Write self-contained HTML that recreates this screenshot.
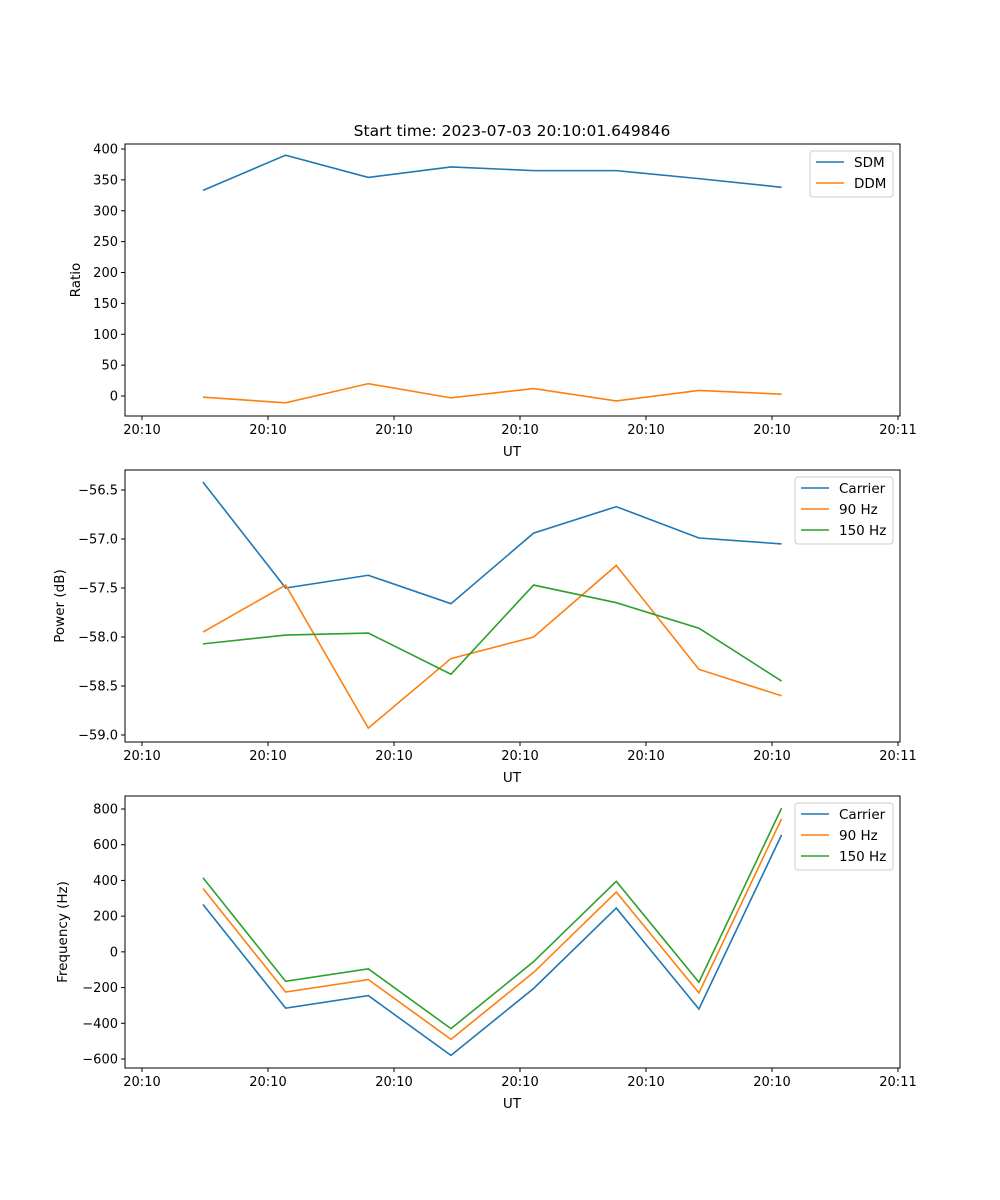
<!DOCTYPE html>
<html><head><meta charset="utf-8"><style>
body{margin:0;background:#fff}
svg{display:block;font-family:"DejaVu Sans","Liberation Sans",sans-serif}
</style></head><body>
<svg id="fig" width="1000" height="1200" xmlns="http://www.w3.org/2000/svg">
<rect width="1000" height="1200" fill="#fff"/>
<text x="512" y="136" font-size="15.5" text-anchor="middle">Start time: 2023-07-03 20:10:01.649846</text>
</svg>
<script>
const xTickLabels = ["20:10","20:10","20:10","20:10","20:10","20:10","20:11"];
const xVals = [0.484,1.140,1.796,2.452,3.108,3.764,4.420,5.076];
const sdm = [333,390,354,371,365,365,352,338];
const ddm = [-2,-11,20,-3,12,-8,9,3];
const pwrCarrier = [-56.42,-57.50,-57.37,-57.66,-56.94,-56.67,-56.99,-57.05];
const pwr90 = [-57.95,-57.47,-58.93,-58.22,-58.00,-57.27,-58.33,-58.60];
const pwr150 = [-58.07,-57.98,-57.96,-58.38,-57.47,-57.65,-57.91,-58.45];
const frqCarrier = [265,-315,-245,-580,-205,245,-320,655];
const frq90 = [355,-225,-155,-490,-115,335,-230,745];
const frq150 = [415,-165,-95,-430,-55,395,-170,805];
const yTicks1 = [0,50,100,150,200,250,300,350,400];
const yTicks2 = [-59.0,-58.5,-58.0,-57.5,-57.0,-56.5];
const yTicks3 = [-600,-400,-200,0,200,400,600,800];

const NS="http://www.w3.org/2000/svg";
const svg=document.getElementById('fig');
function mk(tag,attrs,parent){const e=document.createElementNS(NS,tag);for(const k in attrs)e.setAttribute(k,attrs[k]);(parent||svg).appendChild(e);return e;}
const C=['#1f77b4','#ff7f0e','#2ca02c'];
const L=125,R=900;
const xs=v=>142+126*v;

function panel(name,top,bot,y0v,y0p,y1v,y1p,ticks,fmt,ylabel,ylabelX,series,names,legend){
  const ys=v=>y0p+(v-y0v)*(y1p-y0p)/(y1v-y0v);
  const g=mk('g',{});
  
  
  series.forEach((s,i)=>{
    const p=mk('polyline',{points:s.map((v,j)=>xs(xVals[j])+','+ys(v)).join(' '),fill:'none',stroke:C[i],'stroke-width':1.6},g);
    
    
  });
  const fr=mk('rect',{x:L,y:top,width:R-L,height:bot-top,fill:'none',stroke:'#000','stroke-width':1},g);
  
  
  xTickLabels.forEach((t,i)=>{
    const x=xs(i);
    mk('line',{x1:x,x2:x,y1:bot,y2:bot+4,stroke:'#000'},g);
    const tx=mk('text',{x:x,y:bot+18,'font-size':13,'text-anchor':'middle'},g);tx.textContent=t;
    
    
  });
  const xl=mk('text',{x:512,y:bot+40,'font-size':13.5,'text-anchor':'middle'},g);xl.textContent='UT';
  
  
  ticks.forEach(v=>{
    const y=ys(v);
    mk('line',{x1:L-4,x2:L,y1:y,y2:y,stroke:'#000'},g);
    const tx=mk('text',{x:L-7,y:y+4.5,'font-size':13,'text-anchor':'end'},g);tx.textContent=fmt(v);
    
    
  });
  const yl=mk('text',{x:ylabelX,y:(top+bot)/2,'font-size':13.5,'text-anchor':'middle',transform:`rotate(-90 ${ylabelX} ${(top+bot)/2})`},g);yl.textContent=ylabel;
  
  
  const lg=mk('g',{},g);
  
  
  mk('rect',{x:legend.x,y:top+7,width:893-legend.x,height:names.length*21+4,rx:3,fill:'#fff','fill-opacity':0.8,stroke:'#ccc'},lg);
  names.forEach((n,i)=>{
    const y=top+18+i*21;
    mk('line',{x1:legend.x+6,x2:legend.x+34,y1:y,y2:y,stroke:C[i],'stroke-width':1.6},lg);
    const t=mk('text',{x:legend.x+44,y:y+5,'font-size':13.5},lg);t.textContent=n;
    
    
  });
}
panel('ratio',144,416,0,396,400,149,yTicks1,v=>String(v),'Ratio',80,[sdm,ddm],['SDM','DDM'],{x:810});
panel('power',470,742,-56.5,490,-59,735,yTicks2,v=>v.toFixed(1).replace('-','\u2212'),'Power (dB)',64,[pwrCarrier,pwr90,pwr150],['Carrier','90 Hz','150 Hz'],{x:795});
panel('frequency',796,1068,800,809,-600,1059,yTicks3,v=>String(v).replace('-','\u2212'),'Frequency (Hz)',67,[frqCarrier,frq90,frq150],['Carrier','90 Hz','150 Hz'],{x:795});
</script>
</body></html>
